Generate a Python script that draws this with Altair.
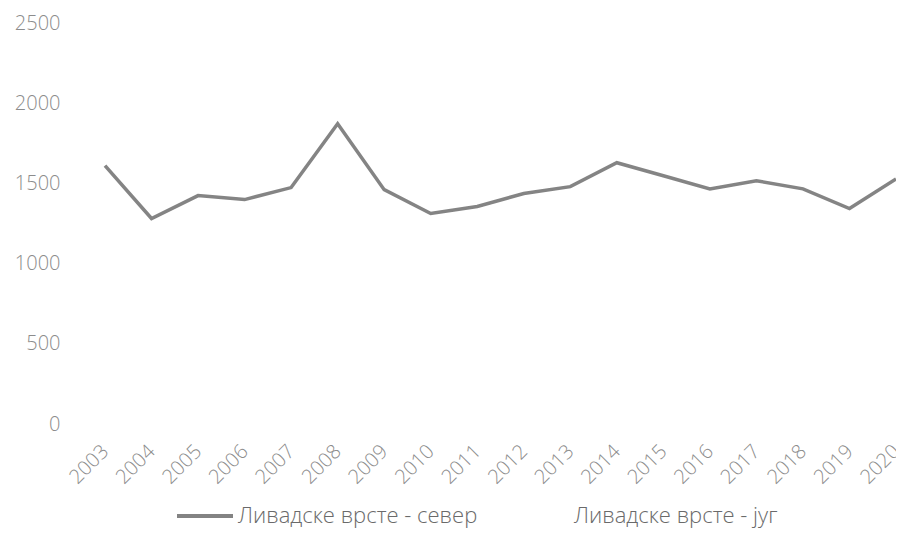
import altair as alt
import pandas as pd

years = [str(y) for y in range(2003, 2021)]
sever = [1611, 1281, 1424, 1399, 1474, 1872, 1461, 1312, 1356, 1437, 1480, 1629, 1548, 1466, 1517, 1466, 1343, 1528]
series_names = ["Ливадске врсте - север", "Ливадске врсте - југ"]
y_ticks = [0, 500, 1000, 1500, 2000, 2500]

df = pd.DataFrame({"year": years, "value": sever, "series": series_names[0]})

FONT = "Open Sans"
GRAY = "#8c8c8c"

chart = alt.Chart(df).mark_line(strokeWidth=3.5, opacity=0.85).encode(
    x=alt.X("year:O", sort=years,
            scale=alt.Scale(type="point", padding=0),
            axis=alt.Axis(title=None, domain=False, ticks=False, labelAngle=315,
                          labelAlign="right", labelBaseline="middle",
                          labelPadding=24, labelFont=FONT, labelFontSize=20,
                          labelColor=GRAY, labelFontWeight=300)),
    y=alt.Y("value:Q", scale=alt.Scale(domain=[0, 2500], nice=False),
            axis=alt.Axis(title=None, values=y_ticks, format="d", domain=False, ticks=False, grid=False,
                          labelPadding=45, labelFont=FONT, labelFontSize=20,
                          labelColor=GRAY, labelFontWeight=300)),
    color=alt.Color("series:N",
                    scale=alt.Scale(domain=series_names, range=["#6e6e6e", "#ffffff"]),
                    legend=alt.Legend(title=None, orient="none", legendX=70, legendY=463,
                                      direction="horizontal", symbolType="stroke",
                                      symbolSize=3136, symbolStrokeWidth=4,
                                      labelFont=FONT, labelFontSize=22, labelColor="#6a6a6a",
                                      labelFontWeight=300, labelOffset=3, columnPadding=27,
                                      labelLimit=400)),
).properties(
    width=791, height=401,
    autosize=alt.AutoSizeParams(type="none"),
    padding={"left": 97, "top": 15, "right": 0, "bottom": 107},
).configure_view(stroke=None)

chart.save("out.html", embed_options={"renderer": "svg", "actions": False})
